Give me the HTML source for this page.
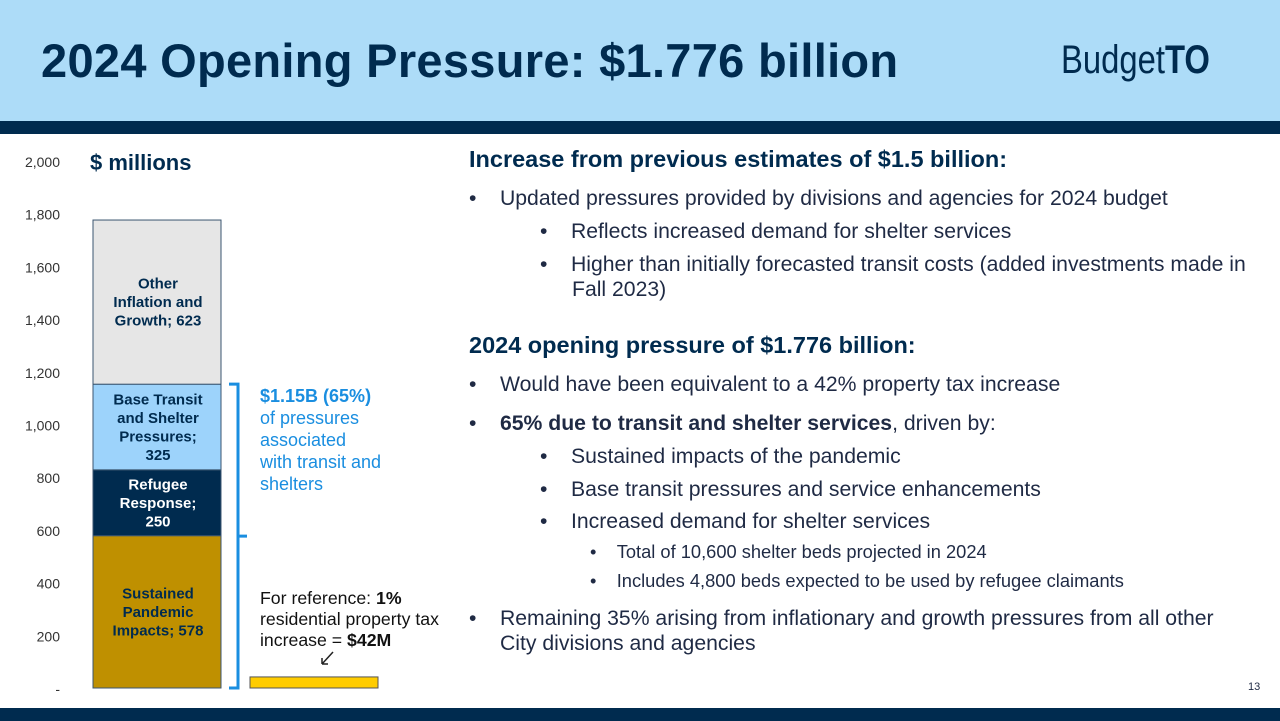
<!DOCTYPE html>
<html><head><meta charset="utf-8"><style>
body{margin:0;width:1280px;height:721px;overflow:hidden;background:#fff;font-family:"Liberation Sans",Arial,sans-serif;position:relative;color:#002b4f}
.hdr{position:absolute;left:0;top:0;width:1280px;height:121px;background:#addcf8}
.band{position:absolute;left:0;top:121px;width:1280px;height:13px;background:#002b4f}
.foot{position:absolute;left:0;top:708px;width:1280px;height:13px;background:#002b4f}
h1{position:absolute;left:41px;top:33px;margin:0;font-size:47px;font-weight:bold;color:#002b4f;letter-spacing:0.3px}
.logo{position:absolute;left:1061px;top:38px;font-size:40px;color:#002b4f;transform:scaleX(0.82);transform-origin:left;font-weight:bold;-webkit-text-stroke:0}
.t{position:absolute;white-space:nowrap;color:#1f2a44}
.h{font-weight:bold;font-size:23.5px;color:#002b4f}
.b{font-size:21.2px}
.s{font-size:18.3px}
</style></head><body>
<div class="hdr"></div>
<div class="band"></div>
<div class="foot"></div>
<h1>2024 Opening Pressure: $1.776 billion</h1>
<div class="logo"><span style="font-weight:normal">Budget</span>TO</div>

<svg id="chart" width="460" height="560" style="position:absolute;left:0;top:140px"></svg>

<div class="t h" style="left:469px;top:146px">Increase from previous estimates of $1.5 billion:</div>
<div class="t b" style="left:469px;top:187px">•&nbsp;&nbsp;&nbsp;&nbsp;Updated pressures provided by divisions and agencies for 2024 budget</div>
<div class="t b" style="left:540px;top:220px">•&nbsp;&nbsp;&nbsp;&nbsp;Reflects increased demand for shelter services</div>
<div class="t b" style="left:540px;top:253px">•&nbsp;&nbsp;&nbsp;&nbsp;Higher than initially forecasted transit costs (added investments made in</div>
<div class="t b" style="left:572px;top:278px">Fall 2023)</div>
<div class="t h" style="left:469px;top:332px">2024 opening pressure of $1.776 billion:</div>
<div class="t b" style="left:469px;top:373px">•&nbsp;&nbsp;&nbsp;&nbsp;Would have been equivalent to a 42% property tax increase</div>
<div class="t b" style="left:469px;top:412px">•&nbsp;&nbsp;&nbsp;&nbsp;<b>65% due to transit and shelter services</b>, driven by:</div>
<div class="t b" style="left:540px;top:445px">•&nbsp;&nbsp;&nbsp;&nbsp;Sustained impacts of the pandemic</div>
<div class="t b" style="left:540px;top:478px">•&nbsp;&nbsp;&nbsp;&nbsp;Base transit pressures and service enhancements</div>
<div class="t b" style="left:540px;top:510px">•&nbsp;&nbsp;&nbsp;&nbsp;Increased demand for shelter services</div>
<div class="t s" style="left:590px;top:541px">•&nbsp;&nbsp;&nbsp;&nbsp;Total of 10,600 shelter beds projected in 2024</div>
<div class="t s" style="left:590px;top:570px">•&nbsp;&nbsp;&nbsp;&nbsp;Includes 4,800 beds expected to be used by refugee claimants</div>
<div class="t b" style="left:469px;top:607px">•&nbsp;&nbsp;&nbsp;&nbsp;Remaining 35% arising from inflationary and growth pressures from all other</div>
<div class="t b" style="left:500px;top:632px">City divisions and agencies</div>
<div class="t" style="left:1248px;top:681px;font-size:11px">13</div>

<script>
const ticks=[0,200,400,600,800,1000,1200,1400,1600,1800,2000];
const tickLabels=["-","200","400","600","800","1,000","1,200","1,400","1,600","1,800","2,000"];
const segNames=[["Sustained","Pandemic","Impacts;  578"],["Refugee","Response;","250"],["Base Transit","and Shelter","Pressures;","325"],["Other","Inflation and","Growth;  623"]];
const segValues=[578,250,325,623];
const refValue=42;
const colors=["#bf9000","#002b4f","#9dd3fb","#e6e6e6"];
const txtColors=["#002b4f","#fff","#002b4f","#002b4f"];
const NS="http://www.w3.org/2000/svg";
const svg=document.getElementById('chart');
const y=v=>548-v*0.2635;
function mk(t,a){const e=document.createElementNS(NS,t);for(const k in a)e.setAttribute(k,a[k]);svg.appendChild(e);return e;}
ticks.forEach((v,i)=>{
  const e=mk('text',{x:60,y:y(v)+6,'text-anchor':'end','font-size':14,fill:'#333','font-family':'Liberation Sans'});
  e.textContent=tickLabels[i];
  
  
});
const tt=mk('text',{x:90,y:30,'font-size':22,'font-weight':'bold',fill:'#002b4f','font-family':'Liberation Sans'});
tt.textContent='$ millions';


let cum=0;
segValues.forEach((v,i)=>{
  const r=mk('rect',{x:93,y:y(cum+v),width:128,height:y(cum)-y(cum+v),fill:colors[i],stroke:'#3b5670','stroke-width':1});
  
  
  const mid=(y(cum)+y(cum+v))/2, lines=segNames[i], lh=18.5;
  lines.forEach((l,j)=>{
    const t=mk('text',{x:158,y:mid+(j-(lines.length-1)/2)*lh+5,'text-anchor':'middle','font-size':15,'font-weight':'bold',fill:txtColors[i],'font-family':'Liberation Sans'});
    t.textContent=l;
    
    
  });
  cum+=v;
});
const tot=segValues[0]+segValues[1]+segValues[2];
const br=mk('path',{d:`M229 ${y(tot)} H238 V${y(0)} H229 M238 ${(y(tot)+y(0))/2} H247`,stroke:'#1a8ee0','stroke-width':3,fill:'none'});


const rr=mk('rect',{x:250,y:y(refValue),width:128,height:y(0)-y(refValue),fill:'#ffcc00',stroke:'#555','stroke-width':1});


const ar=mk('path',{d:'M333 512 L322 524 M322 524 L322 518 M322 524 L328 524',stroke:'#222','stroke-width':1.5,fill:'none'});


const blue=[["$1.15B (65%)",true],["of pressures",false],["associated",false],["with transit and",false],["shelters",false]];
blue.forEach((b,i)=>{
  const t=mk('text',{x:260,y:262+i*22,'font-size':18,'font-weight':b[1]?'bold':'normal',fill:'#1a8ee0','font-family':'Liberation Sans'});
  t.textContent=b[0];
  
  
});
const ref=[['For reference: ','1%'],['residential property tax',''],['increase = ','$42M']];
ref.forEach((r,i)=>{
  const t=mk('text',{x:260,y:464+i*21,'font-size':17.7,fill:'#111','font-family':'Liberation Sans'});
  t.innerHTML=r[0]+(r[1]?'<tspan font-weight="bold">'+r[1]+'</tspan>':'');
  
  
});
</script>
</body></html>
